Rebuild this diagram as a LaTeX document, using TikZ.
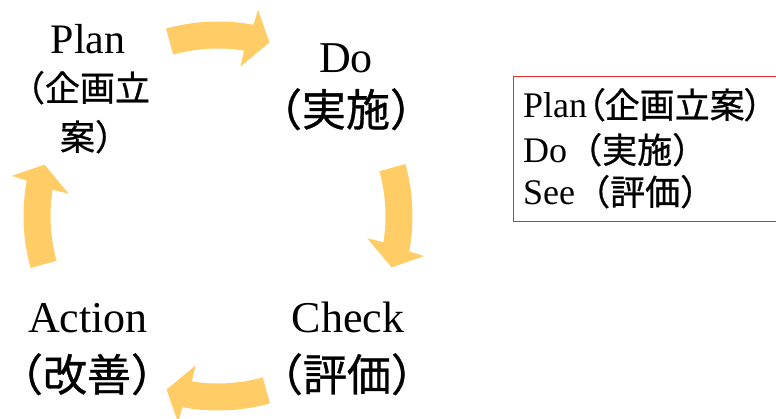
\documentclass[tikz,border=0pt]{standalone}
\usepackage{fontspec}
\setmainfont{Liberation Serif}
\newfontfamily\cjk[FakeBold=0.8]{Noto Sans CJK JP}
\newfontfamily\cjkp[FakeBold=0.8,RawFeature=+palt]{Noto Sans CJK JP}
\usetikzlibrary{calc}
\definecolor{arrowyellow}{RGB}{255,204,102}
\definecolor{boxred}{RGB}{235,40,40}
\begin{document}
\begin{tikzpicture}[x=1pt,y=1pt,
  lbl/.style={inner sep=0pt, anchor=base},
  latinbig/.style={font=\fontsize{44}{50}\selectfont},
  cjkbig/.style={font=\fontsize{44}{50}\selectfont\cjk},
  boxline/.style={inner sep=0pt, anchor=base west, font=\fontsize{36}{42}\selectfont},
  cyclearrow/.style={fill=arrowyellow}]
\useasboundingbox (0,0) rectangle (776,418);
\coordinate (C) at (218,202);
\foreach \R in {0,90,180,270}{
  \fill[cyclearrow, rotate around={\R:(C)}]
    ($(C)+(15.5:194.5)$) arc[start angle=15.5, end angle=-10.5, radius=194.5]
    -- ($(C)+(-11:210)$) -- ($(C)+(-16.5:181)$) -- ($(C)+(-8.5:151)$)
    -- ($(C)+(-9:167.5)$) arc[start angle=-9, end angle=15.5, radius=167.5] -- cycle;
}
% Plan
\node[lbl, font=\fontsize{42}{48}\selectfont] (plan) at (88,364) {Plan};
\node[lbl, font=\fontsize{35}{40}\selectfont\cjk] (plana) at (80,317) {（企画立};
\node[lbl, font=\fontsize{35}{40}\selectfont\cjk] (planb) at (95,268) {案）};
% Do
\node[lbl, latinbig] (do) at (346,345) {Do};
\node[lbl, cjkbig] (doj) at (346,292) {（実施）};
% Check
\node[lbl, latinbig] (check) at (348,86) {Check};
\node[lbl, cjkbig] (checkj) at (347,27) {（評価）};
% Action
\node[lbl, latinbig] (act) at (88,86) {Action};
\node[lbl, cjkbig] (actj) at (87,27) {（改善）};
% legend box
\draw[boxred, line width=1pt] (780,341) -| (513,196) -- (780,196);
\node[boxline] (s1) at (523,300) {Plan{\fontsize{35}{42}\selectfont\cjkp （}{\fontsize{35}{42}\selectfont\cjk 企画立案}{\fontsize{35}{42}\selectfont\cjkp ）}};
\node[boxline] (s2) at (523,255) {Do{\fontsize{35}{42}\selectfont\cjk （実施）}};
\node[boxline] (s3) at (523,213) {See{\fontsize{35}{42}\selectfont\cjk （評価）}};
\end{tikzpicture}
\end{document}
